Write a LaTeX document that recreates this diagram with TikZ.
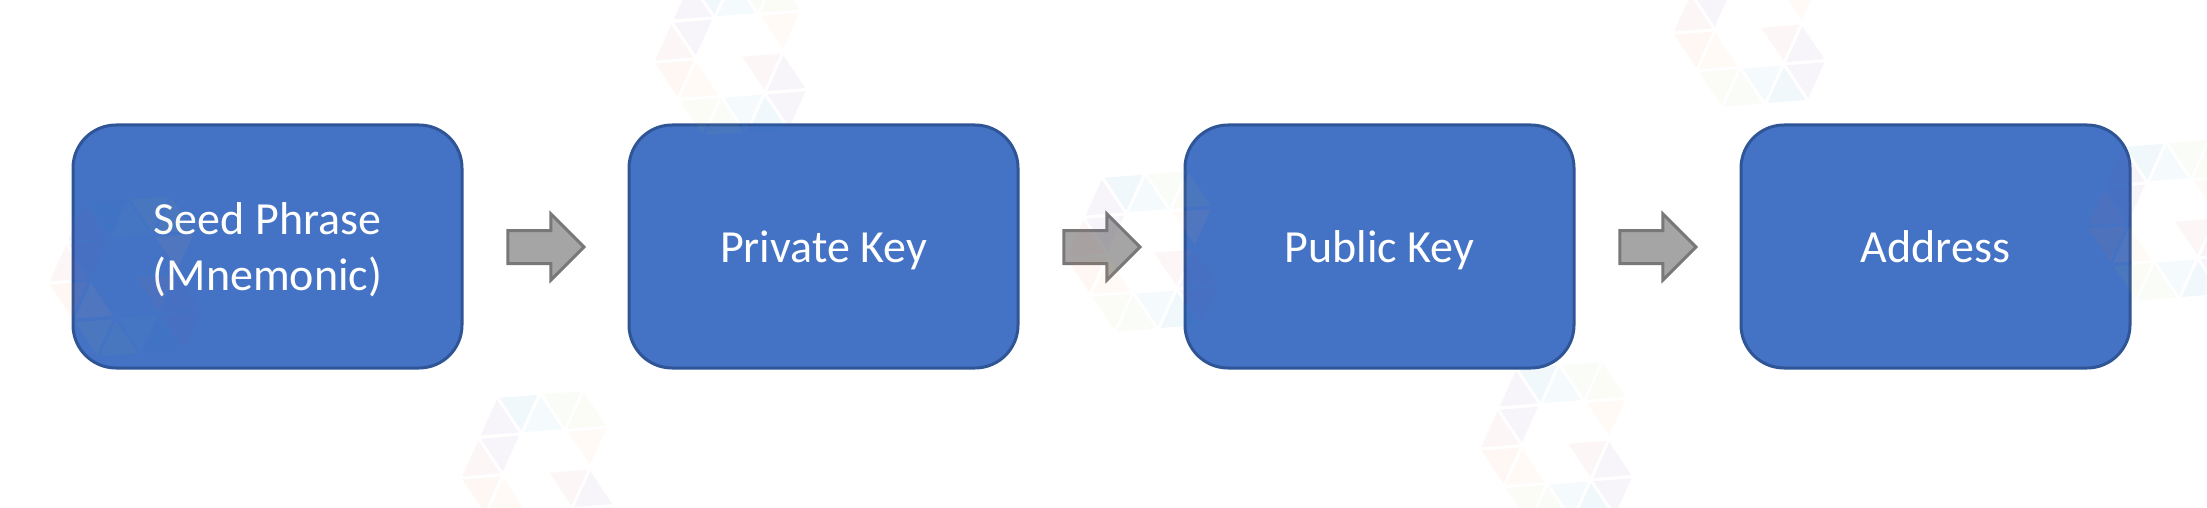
\documentclass[tikz,border=0pt]{standalone}
\usepackage{fontspec}
\setmainfont{Carlito}
\usetikzlibrary{calc,shapes.arrows}
\definecolor{boxfill}{HTML}{4472C4}
\definecolor{boxline}{HTML}{2F5597}
\definecolor{arrowfill}{HTML}{A5A5A5}
\definecolor{arrowline}{HTML}{787878}
\definecolor{wmPurple}{RGB}{135,95,185}
\definecolor{wmBlue}{RGB}{25,145,205}
\definecolor{wmTeal}{RGB}{85,195,205}
\definecolor{wmGreen}{RGB}{155,205,125}
\definecolor{wmLime}{RGB}{175,205,85}
\definecolor{wmCream}{RGB}{255,185,95}
\definecolor{wmPeach}{RGB}{245,135,65}
\definecolor{wmPink}{RGB}{215,105,105}
\tikzset{
  stagebox/.style={draw=boxline,line width=3pt,fill=boxfill,rounded corners=43pt,
    minimum width=389pt,minimum height=243pt,inner sep=0pt,outer sep=0pt,
    text=white,align=center,font=\fontsize{46}{56.5}\selectfont},
  flowarrow/.style={draw=arrowline,line width=3pt,fill=arrowfill,single arrow,
    single arrow head extend=16.5pt,minimum width=63pt,minimum height=76pt,
    inner sep=0pt,outer sep=0pt},
  wmtri/.style={opacity=0.06}
}
\newcommand{\lbl}[1]{\raisebox{0pt}[32pt][0pt]{#1}}
% one watermark triangle, pulled in towards its centre to leave the gaps
\newcommand{\wtri}[7]{%
  \fill[wmtri,#7] ($0.92*(#1,#2)+0.04*(#3,#4)+0.04*(#5,#6)$)
    -- ($0.04*(#1,#2)+0.92*(#3,#4)+0.04*(#5,#6)$)
    -- ($0.04*(#1,#2)+0.04*(#3,#4)+0.92*(#5,#6)$) -- cycle;}
\newcommand{\wmlogo}[2]{%
  \begin{scope}[shift={(#1,#2)},x={(43.5pt,3.4pt)},y={(25pt,-37.5pt)}]
    \wtri{-1}{1}{0}{0}{0}{1}{wmPurple}
    \wtri{0}{0}{1}{0}{0}{1}{wmBlue}
    \wtri{1}{0}{0}{1}{1}{1}{wmTeal}
    \wtri{1}{0}{2}{0}{1}{1}{wmGreen}
    \wtri{2}{0}{1}{1}{2}{1}{wmLime}
    \wtri{1}{1}{2}{1}{1}{2}{wmCream}
    \wtri{-1}{1}{0}{1}{-1}{2}{wmPurple}
    \wtri{-2}{2}{-1}{1}{-1}{2}{wmPink}
    \wtri{-2}{2}{-1}{2}{-2}{3}{wmPeach}
    \wtri{-1}{2}{-2}{3}{-1}{3}{wmCream}
    \wtri{-2}{3}{-1}{3}{-2}{4}{wmLime}
    \wtri{-1}{3}{-2}{4}{-1}{4}{wmGreen}
    \wtri{-1}{3}{0}{3}{-1}{4}{wmTeal}
    \wtri{0}{3}{-1}{4}{0}{4}{wmBlue}
    \wtri{0}{3}{1}{3}{0}{4}{wmPurple}
    \wtri{1}{2}{0}{3}{1}{3}{wmPurple}
    \wtri{0}{2}{1}{2}{0}{3}{wmPink}
  \end{scope}}
\begin{document}
\begin{tikzpicture}[x=1pt,y=-1pt]
  \useasboundingbox (0,0) rectangle (2207,508);
  \clip (0,0) rectangle (2207,508);
  \fill[white] (0,0) rectangle (2207,508);
  \node[stagebox] (seed) at (267.5,246.5) {\lbl{Seed Phrase}\\\lbl{(Mnemonic)}};
  \node[stagebox] (private) at (823.5,246.5) {\lbl{Private Key}};
  \node[stagebox] (public) at (1379.5,246.5) {\lbl{Public Key}};
  \node[stagebox] (address) at (1935.5,246.5) {\lbl{Address}};
  \node[flowarrow] (a1) at (537.7,247) {\rule{0pt}{30pt}};
  \node[flowarrow] (a2) at (1093.7,247) {\rule{0pt}{30pt}};
  \node[flowarrow] (a3) at (1649.7,247) {\rule{0pt}{30pt}};
  \wmlogo{84.2}{201.4}
  \wmlogo{1101.6}{176.4}
  \wmlogo{2122.6}{145.4}
  \wmlogo{689.6}{-19.6}
  \wmlogo{1708.6}{-48.6}
  \wmlogo{496.6}{396.4}
  \wmlogo{1515.6}{367.4}
\end{tikzpicture}
\end{document}
